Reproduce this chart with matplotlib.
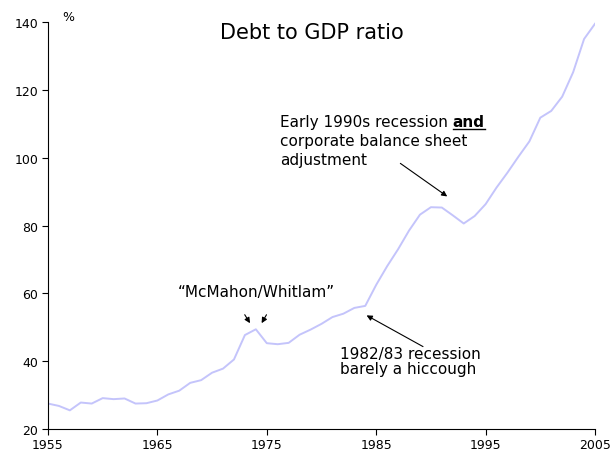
import matplotlib
matplotlib.use("Agg")
import matplotlib.pyplot as plt
from matplotlib.transforms import offset_copy

# data
years = list(range(1955, 2006))
debt_to_gdp = [
    27.5, 26.8, 25.5, 27.8, 27.5, 29.1, 28.8, 29.0, 27.5, 27.6,   # 1955-64
    28.4, 30.2, 31.3, 33.6, 34.4, 36.6, 37.8, 40.5, 47.7, 49.4,   # 1965-74
    45.3, 45.0, 45.4, 47.8, 49.3, 51.0, 53.0, 54.0, 55.7, 56.3,   # 1975-84
    62.5, 68.0, 73.0, 78.5, 83.2, 85.4, 85.3, 83.0, 80.6, 82.8,   # 1985-94
    86.3, 91.2, 95.6, 100.3, 104.8, 111.8, 113.8, 118.0, 125.2, 135.0,  # 1995-2004
    139.5,                                                        # 2005
]
x_ticks = [1955, 1965, 1975, 1985, 1995, 2005]
y_ticks = [20, 40, 60, 80, 100, 120, 140]

LINE_COLOR = "#c4c4fb"
FS = 11

fig = plt.figure(figsize=(6.15, 4.52), dpi=100)
ax = fig.add_axes([0.078, 0.0487, 0.8895, 0.9003])

ax.plot(years, debt_to_gdp, color=LINE_COLOR, lw=1.4)

ax.set_xlim(1955, 2005)
ax.set_ylim(20, 140)
ax.set_xticks(x_ticks)
ax.set_yticks(y_ticks)
ax.tick_params(direction="out", length=4, width=0.8, labelsize=9)
ax.tick_params(axis="x", pad=2.5)
ax.tick_params(axis="y", pad=3)
for side in ("top", "right"):
    ax.spines[side].set_visible(False)
for side in ("left", "bottom"):
    ax.spines[side].set_linewidth(0.8)

# unit label and title
ax.text(1956.3, 141.5, "%", fontsize=9, ha="left", va="center")
ax.text(1979.1, 137.0, "Debt to GDP ratio", fontsize=15, ha="center", va="center")

arrow = dict(arrowstyle="-|>", color="black", lw=0.8, mutation_scale=8)

# McMahon/Whitlam
ax.text(1974.0, 60.4, "\u201cMcMahon/Whitlam\u201d", fontsize=FS, ha="center", va="center")
ax.annotate("", xy=(1973.6, 50.5), xytext=(1972.85, 54.4), arrowprops=arrow)
ax.annotate("", xy=(1974.4, 50.5), xytext=(1975.1, 54.4), arrowprops=arrow)

# 1982/83 recession
ax.text(1981.7, 40.0, "1982/83 recession\nbarely a hiccough", fontsize=FS,
        ha="left", va="center", linespacing=1.05)
ax.annotate("", xy=(1983.9, 53.9), xytext=(1989.5, 43.9), arrowprops=arrow)

# early 1990s recession, with bold underlined "and"
t1 = ax.text(1976.2, 110.6, "Early 1990s recession ", fontsize=FS, ha="left", va="center")
fig.canvas.draw()
w = t1.get_window_extent().width
t2 = ax.text(1976.2, 110.6, "and", fontsize=FS, ha="left", va="center", fontweight="bold",
             transform=offset_copy(ax.transData, fig=fig, x=w, y=0, units="dots"))
fig.canvas.draw()
bb = t2.get_window_extent()
x0, _ = ax.transData.inverted().transform((bb.x0, 0))
x1, _ = ax.transData.inverted().transform((bb.x1, 0))
ax.plot([x0, x1], [108.4, 108.4], color="black", lw=1.0)
ax.text(1976.2, 105.2, "corporate balance sheet", fontsize=FS, ha="left", va="center")
ax.text(1976.2, 99.6, "adjustment", fontsize=FS, ha="left", va="center")
ax.annotate("", xy=(1991.7, 88.1), xytext=(1987.0, 98.8), arrowprops=arrow)

fig.savefig("out.png", dpi=100)
